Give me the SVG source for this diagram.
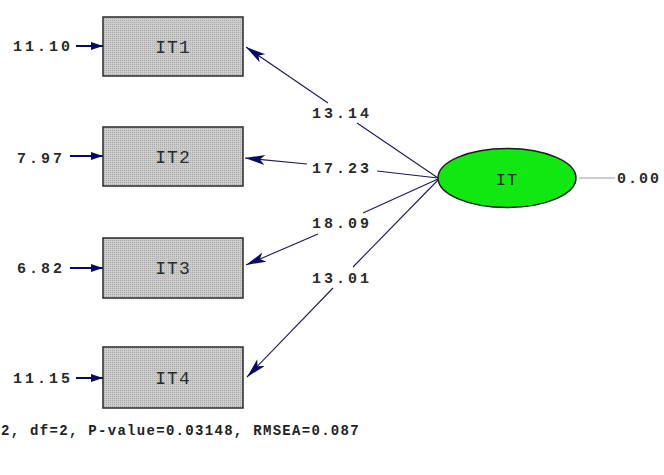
<svg xmlns="http://www.w3.org/2000/svg" width="664" height="475" viewBox="0 0 664 475">
<style>
.box{fill:url(#dots);stroke:#2a2a2a;stroke-width:1.5}
.nodet{font-family:"Liberation Mono","Courier New",monospace;font-size:18px;letter-spacing:1px;fill:#2a2a2a;text-anchor:middle}
.num{font-family:"Liberation Mono","Courier New",monospace;font-size:15px;letter-spacing:3px;fill:#2a2a2a;font-weight:bold}
.path{stroke:#1c1c4e;stroke-width:1.1;fill:none}
.err{stroke:#0a0a5a;stroke-width:2;fill:none}
.foot{font-family:"Liberation Mono","Courier New",monospace;font-size:14px;letter-spacing:1.3px;fill:#222;font-weight:bold}
</style>
<defs>
<pattern id="dots" width="2" height="2" patternUnits="userSpaceOnUse">
<rect width="2" height="2" fill="#cdcdcd"/>
<rect width="1" height="1" fill="#a9a9a9"/>
</pattern>
<marker id="ah" markerUnits="userSpaceOnUse" markerWidth="22" markerHeight="12" refX="20" refY="5" orient="auto">
<path d="M0,0 L20,5 L0,10 L5,5 Z" fill="#0a0a66"/>
</marker>
<marker id="ahs" markerUnits="userSpaceOnUse" markerWidth="14" markerHeight="10" refX="12" refY="4" orient="auto">
<path d="M0,0 L12,4 L0,8 Z" fill="#0a0a66"/>
</marker>
</defs>
<rect width="664" height="475" fill="#ffffff"/>

<g id="connectors">
<line class="path" x1="438" y1="178" x2="357" y2="123"/>
<line class="path" x1="328" y1="103" x2="246" y2="47" marker-end="url(#ah)"/>
<line class="path" x1="438" y1="178" x2="377" y2="171"/>
<line class="path" x1="307" y1="164" x2="245" y2="158" marker-end="url(#ah)"/>
<line class="path" x1="438" y1="179" x2="363" y2="213"/>
<line class="path" x1="318" y1="234" x2="246" y2="265" marker-end="url(#ah)"/>
<line class="path" x1="438" y1="180" x2="353" y2="267"/>
<line class="path" x1="333" y1="288" x2="247" y2="377" marker-end="url(#ah)"/>
<line class="err" x1="76" y1="46" x2="103" y2="46" marker-end="url(#ahs)"/>
<line class="err" x1="70" y1="156" x2="103" y2="156" marker-end="url(#ahs)"/>
<line class="err" x1="70" y1="268" x2="103" y2="268" marker-end="url(#ahs)"/>
<line class="err" x1="76" y1="378" x2="103" y2="378" marker-end="url(#ahs)"/>
<line x1="579" y1="178" x2="615" y2="178" stroke="#9a9a9a" stroke-width="1"/>
<text class="num" x="312" y="118">13.14</text>
<text class="num" x="312" y="173">17.23</text>
<text class="num" x="312" y="228">18.09</text>
<text class="num" x="312" y="283">13.01</text>
</g>

<g id="IT1">
<rect class="box" x="103" y="17" width="140" height="59"/>
<text class="nodet" x="173" y="53">IT1</text>
<text class="num" x="13" y="51">11.10</text>
</g>
<g id="IT2">
<rect class="box" x="103" y="127" width="140" height="59"/>
<text class="nodet" x="173" y="163">IT2</text>
<text class="num" x="17" y="163">7.97</text>
</g>
<g id="IT3">
<rect class="box" x="103" y="238" width="140" height="60"/>
<text class="nodet" x="173" y="274">IT3</text>
<text class="num" x="17" y="273">6.82</text>
</g>
<g id="IT4">
<rect class="box" x="103" y="347" width="140" height="61"/>
<text class="nodet" x="173" y="384">IT4</text>
<text class="num" x="13" y="383">11.15</text>
</g>
<g id="IT">
<ellipse cx="507" cy="178" rx="69" ry="29.5" fill="#11e811" stroke="#1a1a1a" stroke-width="1.5"/>
<text class="nodet" x="507" y="185" style="font-size:17px">IT</text>
<text class="num" x="617" y="183" style="letter-spacing:2px">0.00</text>
</g>
<text class="foot" x="1" y="435">2, df=2, P-value=0.03148, RMSEA=0.087</text>
</svg>
